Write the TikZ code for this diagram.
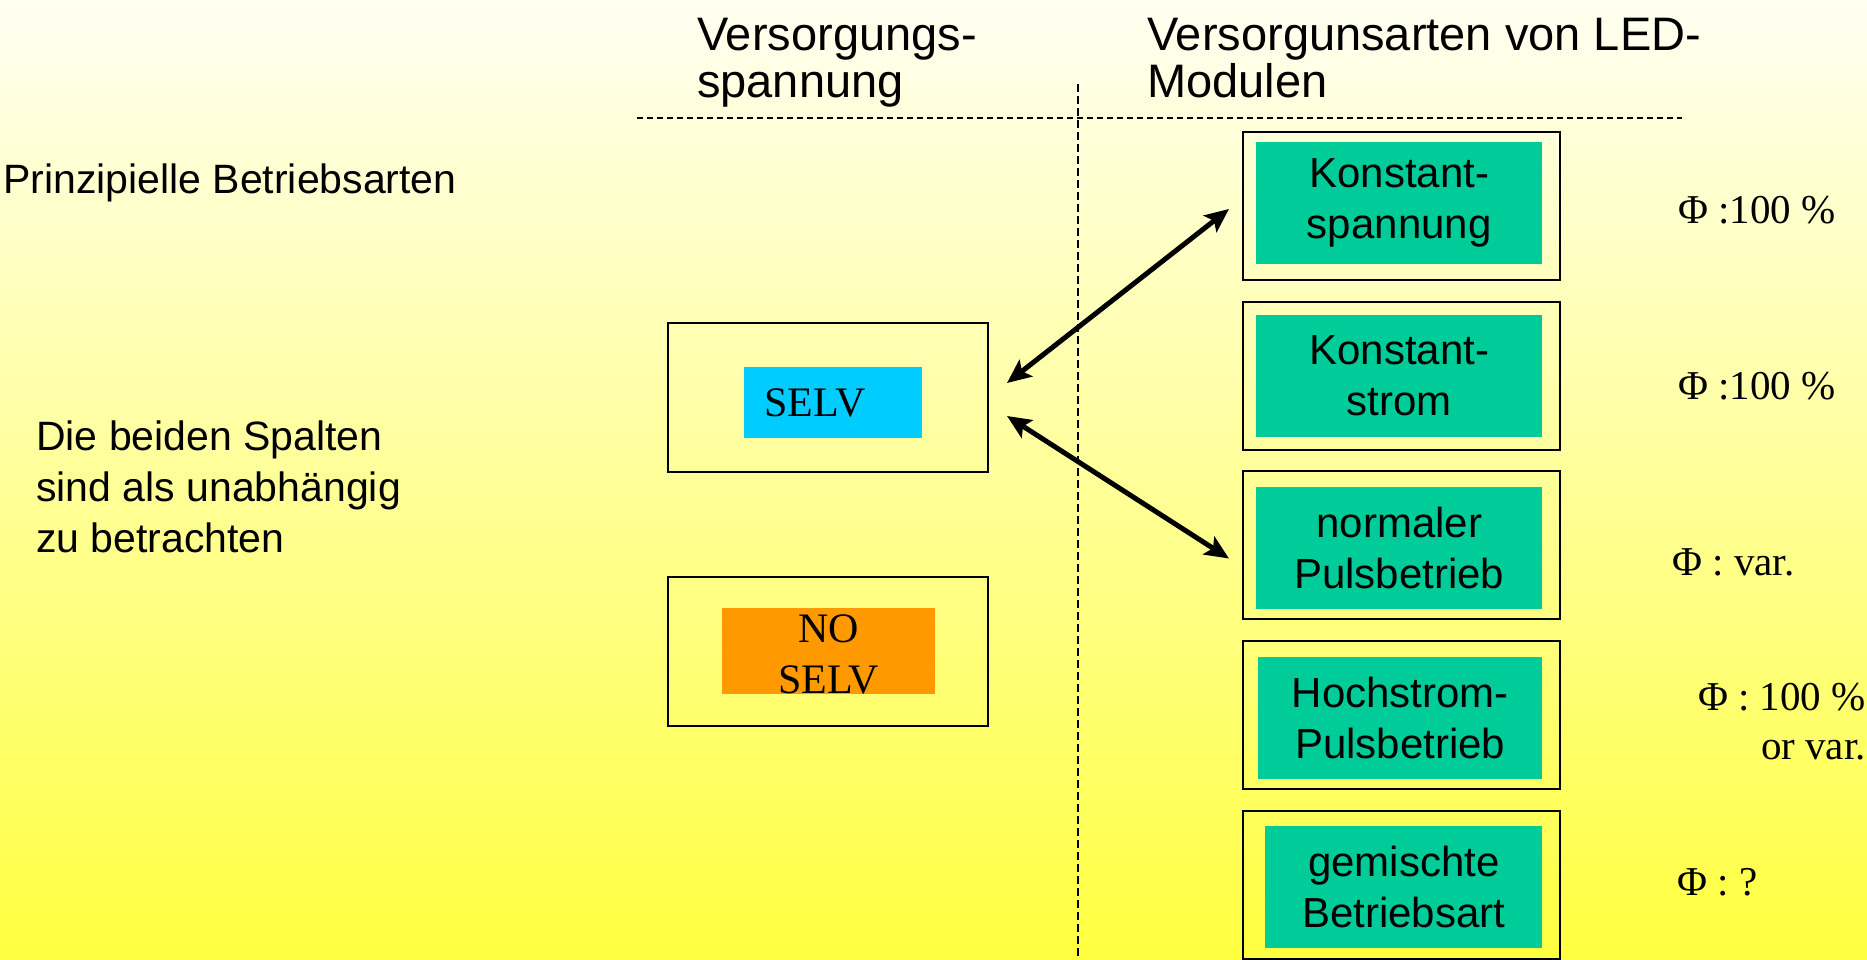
\documentclass[tikz,border=0pt]{standalone}
\usepackage{fontspec}
\setmainfont{Liberation Serif}
\setsansfont{Liberation Sans}
\usetikzlibrary{arrows.meta,positioning}

\definecolor{modegreen}{RGB}{0,204,153}
\definecolor{selvblue}{RGB}{0,204,255}
\definecolor{noselvorange}{RGB}{255,153,0}
\definecolor{bgtop}{RGB}{255,255,242}
\definecolor{bgmid}{RGB}{255,255,190}
\definecolor{bgbot}{RGB}{255,255,64}

\begin{document}
\begin{tikzpicture}[x=1pt,y=-1pt]
        \tikzstyle{outer}=[draw,line width=2pt,anchor=north west,inner sep=0pt,minimum width=317pt,minimum height=148pt]
        \tikzstyle{mode}=[fill=modegreen,anchor=north west,inner sep=0pt,minimum width=286pt,minimum height=122pt,align=center,font=\sffamily\fontsize{42}{51}\selectfont]
        \tikzstyle{head}=[anchor=base west,align=left,inner sep=0pt,font=\sffamily\fontsize{47}{47}\selectfont]
        \tikzstyle{note}=[anchor=base west,align=left,inner sep=0pt,font=\sffamily\fontsize{41}{51}\selectfont]
        \tikzstyle{phi}=[anchor=base west,inner sep=0pt,font=\fontsize{41}{49}\selectfont]
        \tikzstyle{dbl}=[{Stealth[length=24pt,width=21pt,inset=5pt]}-{Stealth[length=24pt,width=21pt,inset=5pt]},line width=5pt]

        % background
        \shade[top color=bgtop,middle color=bgmid,bottom color=bgbot] (0,0) rectangle (1867,959);
        \useasboundingbox (0,0) rectangle (1867,959);

        % column heads and separators (base = last line)
        \node[head] (hvolt) at (697,97) {Versorgungs-\\spannung};
        \node[head] (hmod) at (1147,97) {Versorgunsarten von LED-\\Modulen};
        \draw[line width=1.5pt,dash pattern=on 6pt off 4pt] (637,118) -- (1682,118);
        \draw[line width=2pt,dash pattern=on 8pt off 4pt] (1078,84) -- (1078,959);

        % left notes
        \node[note] (title) at (3,193) {Prinzipielle Betriebsarten};
        \node[note] (hint) at (36,552) {Die beiden Spalten\\sind als unabh\"angig\\zu betrachten};

        % supply voltage
        \node[outer,minimum width=320pt,minimum height=149pt] (selv) at (667,322) {};
        \node[fill=selvblue,anchor=north west,inner sep=0pt,minimum width=178pt,minimum height=71pt,
              text width=138pt,align=left,font=\fontsize{42}{51}\selectfont] (selvin) at (744,367) {SELV};
        \node[outer,minimum width=320pt,minimum height=149pt] (noselv) at (667,576) {};
        \node[fill=noselvorange,anchor=north west,inner sep=0pt,minimum width=213pt,minimum height=86pt] (noselvin) at (722,608) {};
        \node[align=center,inner sep=0pt,font=\fontsize{42}{51}\selectfont] (noselvtxt) at ([yshift=-3pt]noselvin.center) {NO\\SELV};

        % LED module modes
        \foreach \ot/\it/\ix/\nm/\txt in {131/142/1256/konst/{Konstant-\\spannung},
                                          301/315/1256/strom/{Konstant-\\strom},
                                          470/487/1256/puls/{normaler\\Pulsbetrieb},
                                          640/657/1258/hoch/{Hochstrom-\\Pulsbetrieb},
                                          810/826/1265/mix/{gemischte\\Betriebsart}} {
            \node[outer] (\nm) at (1242,\ot) {};
            \node[mode,minimum width=1542pt-\ix pt] (\nm_in) at (\ix,\it) {\txt};
        };

        % luminous flux
        \node[phi] (phikonst) at (1678,223) {Φ :100 \%};
        \node[phi] (phistrom) at (1678,399) {Φ :100 \%};
        \node[phi] (phipuls) at (1672,575) {Φ : var.};
        \node[phi,anchor=base east,align=right] (phihoch) at (1866,759) {Φ : 100 \%~\\or var.};
        \node[phi] (phimix) at (1677,895) {Φ : ?};

        \draw[dbl] ([xshift=18pt,yshift=14.5pt]selv.east) -- ([xshift=-13pt,yshift=-3pt]konst.west);    % selv<->konst
        \draw[dbl] ([xshift=18pt,yshift=-18.5pt]selv.east) -- ([xshift=-13pt,yshift=-13.5pt]puls.west); % selv<->puls
\end{tikzpicture}
\end{document}
